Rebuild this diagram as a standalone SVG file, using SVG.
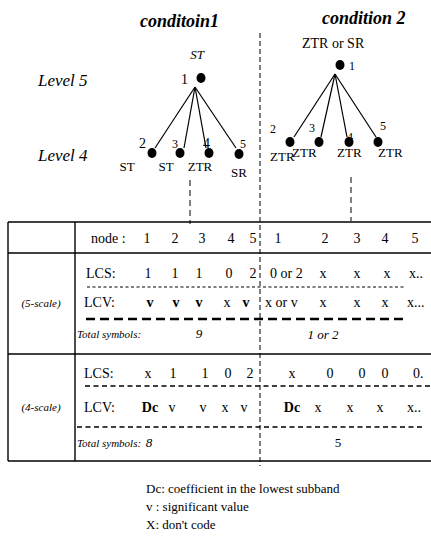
<svg xmlns="http://www.w3.org/2000/svg" width="431" height="542" viewBox="0 0 431 542" font-family="'Liberation Serif', 'Times New Roman', serif">
<style>
text{font-family:'Liberation Serif','Times New Roman',serif;fill:#000}
.t{font-size:18px;font-weight:bold;font-style:italic}
.lv{font-size:17px;font-style:italic}
.lb{font-size:13px}
.sm{font-size:12px}
.tb{font-size:14px}
.c{text-anchor:middle}
.b{font-weight:bold}
.i{font-style:italic}
.ts{font-size:11px;font-style:italic}
.sc{font-size:11px;font-style:italic;text-anchor:middle}
.ln{stroke:#000;stroke-width:1.2;fill:none}
.sol{stroke:#000;stroke-width:1.4;fill:none}
.dv{stroke:#000;stroke-width:1;stroke-dasharray:5 3;fill:none}
.dt{stroke:#000;stroke-width:1;stroke-dasharray:3 2.5;fill:none}
.dk{stroke:#000;stroke-width:2.6;stroke-dasharray:9 5;fill:none}
.dm{stroke:#000;stroke-width:1.4;stroke-dasharray:5 3.5;fill:none}
.dot{fill:#000}
</style>
<text class="t" x="140" y="27">conditoin1</text>
<text class="t" x="322" y="24">condition 2</text>
<text class="lv" x="38" y="86">Level 5</text>
<text class="lv" x="38" y="161">Level 4</text>
<g id="connectors">
<line class="ln" x1="195" y1="87" x2="155" y2="148"/>
<line class="ln" x1="195" y1="87" x2="184" y2="148"/>
<line class="ln" x1="195" y1="87" x2="206" y2="148"/>
<line class="ln" x1="195" y1="87" x2="236" y2="148"/>
<line class="ln" x1="335" y1="74" x2="294" y2="137"/>
<line class="ln" x1="335" y1="74" x2="321" y2="137"/>
<line class="ln" x1="335" y1="74" x2="347" y2="137"/>
<line class="ln" x1="335" y1="74" x2="376" y2="137"/>
<line class="dv" x1="190" y1="180" x2="190" y2="224" style="stroke-dasharray:6 4"/>
<line class="dv" x1="351" y1="177" x2="351" y2="221" style="stroke-dasharray:6 4"/>
<line class="dv" x1="260" y1="33" x2="260" y2="466"/>
</g>
<g id="c1-n1"><text class="lb i c" x="197" y="59">ST</text><ellipse class="dot" cx="201" cy="78" rx="4.5" ry="5"/><text class="tb" x="181" y="84">1</text></g>
<g id="c1-n2"><ellipse class="dot" cx="152" cy="153" rx="4.5" ry="5"/><text class="tb" x="139" y="148">2</text><text class="lb c" x="127" y="171">ST</text></g>
<g id="c1-n3"><ellipse class="dot" cx="180" cy="153" rx="4.5" ry="5"/><text class="sm" x="172" y="148">3</text><text class="lb c" x="166" y="171">ST</text></g>
<g id="c1-n4"><ellipse class="dot" cx="209" cy="153" rx="4.5" ry="5"/><text class="tb" x="203" y="148">4</text><text class="lb c" x="200" y="171">ZTR</text></g>
<g id="c1-n5"><ellipse class="dot" cx="239" cy="154" rx="4.5" ry="5"/><text class="sm" x="240" y="148">5</text><text class="lb c" x="239" y="177">SR</text></g>
<g id="c2-n1"><text class="tb" x="302" y="48">ZTR or SR</text><ellipse class="dot" cx="340" cy="65" rx="4.5" ry="5"/><text class="sm" x="349" y="70">1</text></g>
<g id="c2-n2"><ellipse class="dot" cx="290" cy="142" rx="4.5" ry="5"/><text class="sm" x="270" y="133">2</text><text class="lb" x="270" y="161">ZTR</text></g>
<g id="c2-n3"><ellipse class="dot" cx="319" cy="142" rx="4.5" ry="5"/><text class="sm" x="309" y="132">3</text><text class="lb" x="292" y="157">ZTR</text></g>
<g id="c2-n4"><ellipse class="dot" cx="349" cy="142" rx="4.5" ry="5"/><text class="sm" x="347" y="141">4</text><text class="lb" x="337" y="157">ZTR</text></g>
<g id="c2-n5"><ellipse class="dot" cx="378" cy="142" rx="4.5" ry="5"/><text class="sm" x="380" y="130">5</text><text class="lb" x="378" y="157">ZTR</text></g>
<g id="table">
<line class="sol" x1="8" y1="222" x2="431" y2="222"/>
<line class="sol" x1="8" y1="253" x2="431" y2="253"/>
<line class="sol" x1="8" y1="354" x2="431" y2="354"/>
<line class="sol" x1="8" y1="461" x2="431" y2="461"/>
<line class="sol" x1="8" y1="222" x2="8" y2="461"/>
<line class="sol" x1="75" y1="222" x2="75" y2="461"/>
<line class="dt" x1="87" y1="287" x2="404" y2="287"/>
<line class="dk" x1="86" y1="319" x2="408" y2="319"/>
<line class="dm" x1="85" y1="386" x2="431" y2="386"/>
<line class="dm" x1="77" y1="427" x2="424" y2="427"/>
<text class="sc" x="41" y="307">(5-scale)</text>
<text class="sc" x="41" y="411">(4-scale)</text>
<g class="tb">
<text x="91" y="243">node :</text>
<text class="c" x="147" y="243">1</text><text class="c" x="175" y="243">2</text><text class="c" x="202" y="243">3</text><text class="c" x="231" y="243">4</text><text class="c" x="253" y="243">5</text>
<text class="c" x="278" y="243">1</text><text class="c" x="325" y="243">2</text><text class="c" x="357" y="243">3</text><text class="c" x="385" y="243">4</text><text class="c" x="415" y="243">5</text>
<text x="86" y="278">LCS:</text>
<text class="c" x="148" y="278">1</text><text class="c" x="175" y="278">1</text><text class="c" x="199" y="278">1</text><text class="c" x="229" y="278">0</text><text class="c" x="253" y="278">2</text>
<text x="270" y="278">0 or 2</text>
<text class="c" x="323" y="278">x</text><text class="c" x="357" y="278">x</text><text class="c" x="387" y="278">x</text><text x="409" y="278">x..</text>
<text x="84" y="307">LCV:</text>
<text class="c b" x="150" y="307">v</text><text class="c b" x="176" y="307">v</text><text class="c b" x="199" y="307">v</text><text class="c" x="227" y="307">x</text><text class="c b" x="246" y="307">v</text>
<text x="265" y="307">x or v</text>
<text class="c" x="323" y="307">x</text><text class="c" x="357" y="307">x</text><text class="c" x="385" y="307">x</text><text x="407" y="307">x...</text>
<text class="ts" x="77" y="338">Total symbols:</text>
<text class="c i" x="199" y="338" style="font-size:13px">9</text>
<text class="c i" x="323" y="339" style="font-size:13px">1 or 2</text>
<text x="84" y="378">LCS:</text>
<text class="c" x="148" y="378">x</text><text class="c" x="173" y="378">1</text><text class="c" x="205" y="378">1</text><text class="c" x="228" y="378">0</text><text class="c" x="250" y="378">2</text>
<text class="c" x="292" y="378">x</text><text class="c" x="330" y="378">0</text><text class="c" x="362" y="378">0</text><text class="c" x="385" y="378">0</text><text x="413" y="378">0.</text>
<text x="84" y="412">LCV:</text>
<text class="c b" x="150" y="412">Dc</text><text class="c" x="172" y="412">v</text><text class="c" x="203" y="412">v</text><text class="c" x="225" y="412">x</text><text class="c" x="244" y="412">v</text>
<text class="c b" x="292" y="412">Dc</text><text class="c" x="318" y="412">x</text><text class="c" x="350" y="412">x</text><text class="c" x="380" y="412">x</text><text x="407" y="412">x..</text>
<text class="ts" x="77" y="447">Total symbols:</text>
<text class="c i" x="149" y="447" style="font-size:13px">8</text>
<text class="c" x="338" y="447" style="font-size:13px">5</text>
</g>
</g>
<g id="legend" class="lb">
<text x="146" y="493">Dc:  coefficient in the lowest subband</text>
<text x="146" y="511">v :   significant value</text>
<text x="146" y="529">X:   don't code</text>
</g>
</svg>
